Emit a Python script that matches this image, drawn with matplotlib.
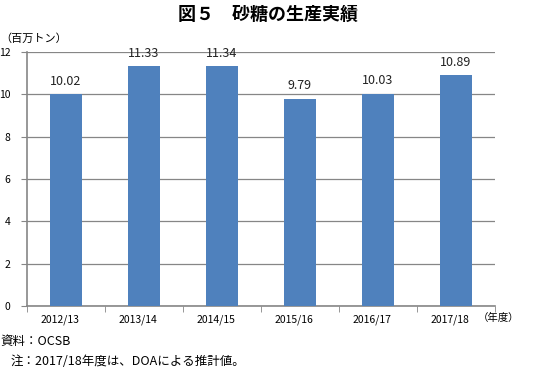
import numpy as np
import matplotlib
matplotlib.use("Agg")
import matplotlib.pyplot as plt

plt.rcParams['font.family'] = ['Noto Sans CJK JP', 'DejaVu Sans']

# Data
years = ["2012/13", "2013/14", "2014/15", "2015/16", "2016/17", "2017/18"]
production = [10.02, 11.33, 11.34, 9.79, 10.03, 10.89]
yticks = [0, 2, 4, 6, 8, 10, 12]

bar_color = "#4F81BD"
axis_color = "#868686"

fig = plt.figure(figsize=(5.35, 3.70), dpi=100)
ax = fig.add_axes([27/535, 64/370, 468/535, 254/370])

x = np.arange(len(years))
ax.bar(x, production, width=0.41, color=bar_color, zorder=3)
for xi, v in zip(x, production):
    ax.text(xi, v + 0.3, "{0:.2f}".format(v), ha="center", va="bottom", fontsize=9, color="#222222")

ax.set_xlim(-0.5, len(years) - 0.5)
ax.set_ylim(0, 12)
ax.set_yticks(yticks)
ax.set_yticklabels([str(t) for t in yticks], fontsize=7.5)
ax.grid(axis="y", color=axis_color, linewidth=0.9, zorder=0)

# Category labels centered, tick marks between categories
ax.set_xticks(x - 0.08)
ax.set_xticklabels(years, fontsize=7.5)
ax.tick_params(axis="x", length=0, pad=6)
ax.set_xticks(np.arange(-0.5, len(years)), minor=True)
ax.tick_params(axis="x", which="minor", length=4, color=axis_color)
ax.tick_params(axis="y", length=4, color=axis_color, pad=8)

for side in ["top", "right"]:
    ax.spines[side].set_visible(False)
ax.spines["left"].set_color(axis_color)
ax.spines["bottom"].set_color(axis_color)
ax.spines["left"].set_linewidth(1.2)
ax.spines["bottom"].set_linewidth(1.2)

fig.text(0.5, 0.962, "図５　砂糖の生産実績", ha="center", va="center", fontsize=13, fontweight="bold")
fig.text(0.0, 0.895, "（百万トン）", ha="left", va="center", fontsize=8)
fig.text(0.893, 0.142, "（年度）", ha="left", va="center", fontsize=7.5)
fig.text(0.0, 0.078, "資料：OCSB", ha="left", va="center", fontsize=9)
fig.text(0.02, 0.022, "注：2017/18年度は、DOAによる推計値。", ha="left", va="center", fontsize=9)

fig.savefig("out.png", dpi=100)
